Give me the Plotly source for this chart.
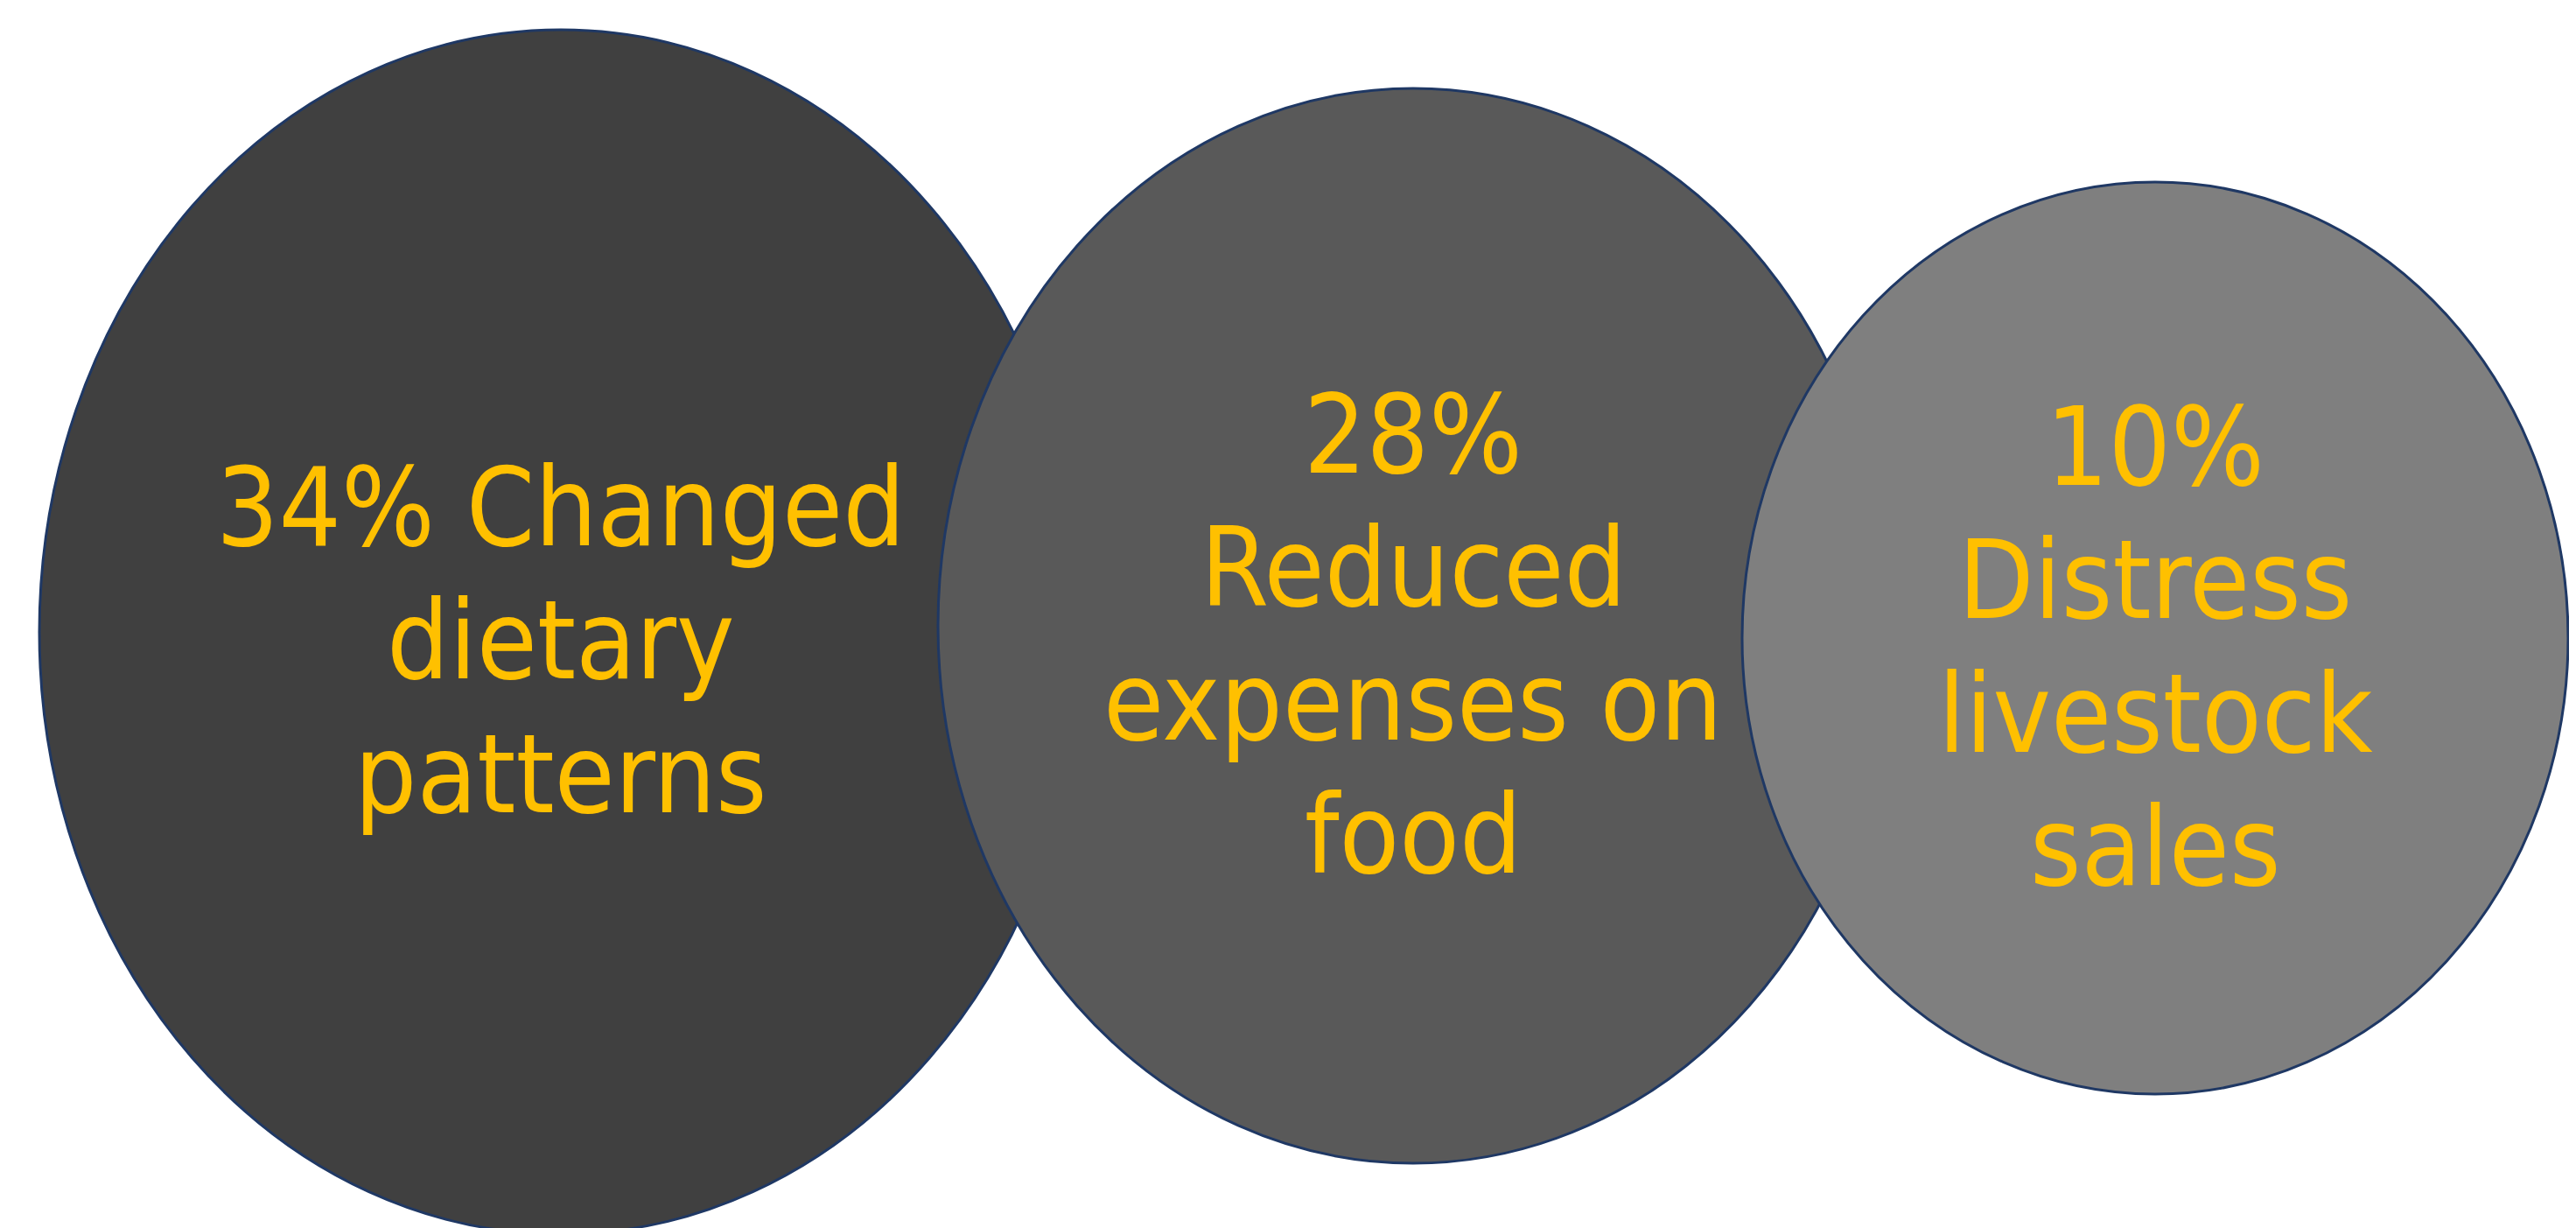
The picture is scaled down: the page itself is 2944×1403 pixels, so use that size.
import plotly.graph_objects as go

# Data
values = [34, 28, 10]
label_lines = [
    ["{v}% Changed", "dietary", "patterns"],
    ["{v}%", "Reduced", "expenses on", "food"],
    ["{v}%", "Distress", "livestock", "sales"],
]

# Layout geometry (pixel-space axes)
W, H = 2944, 1403
OFF = 8  # default page body margin
cx = [641, 1615, 2463]
cy = [722, 715, 729]
rx = [596, 543, 472]
ry = [688, 614, 521]
first_baseline = [622, 539, 553]
line_gap = 152.5
baseline_to_mid = 43
fills = ["#404040", "#595959", "#7F7F7F"]
outline = "#1F3864"
text_color = "#FFC000"
font_family = "DejaVu Sans Condensed, Liberation Sans, sans-serif"
font_size = 125

fig = go.Figure()
fig.add_trace(go.Scatter(x=[OFF, W + OFF], y=[OFF, H + OFF], mode="markers",
                         marker=dict(opacity=0), hoverinfo="skip", showlegend=False))

for i, v in enumerate(values):
    fig.add_shape(type="circle", xref="x", yref="y",
                  x0=cx[i] - rx[i], x1=cx[i] + rx[i], y0=cy[i] - ry[i], y1=cy[i] + ry[i],
                  fillcolor=fills[i], line=dict(color=outline, width=3), layer="above")
    for j, line in enumerate(label_lines[i]):
        fig.add_annotation(x=cx[i], y=first_baseline[i] + j * line_gap - baseline_to_mid,
                           xref="x", yref="y", text=line.format(v=v), showarrow=False,
                           xanchor="center", yanchor="middle", align="center",
                           font=dict(family=font_family, size=font_size, color=text_color))

fig.update_layout(width=W, height=H, margin=dict(l=0, r=0, t=0, b=0),
                  paper_bgcolor="white", plot_bgcolor="white",
                  xaxis=dict(range=[OFF, W + OFF], visible=False, fixedrange=True),
                  yaxis=dict(range=[H + OFF, OFF], visible=False, fixedrange=True),
                  showlegend=False)
fig.write_html("out.html")
